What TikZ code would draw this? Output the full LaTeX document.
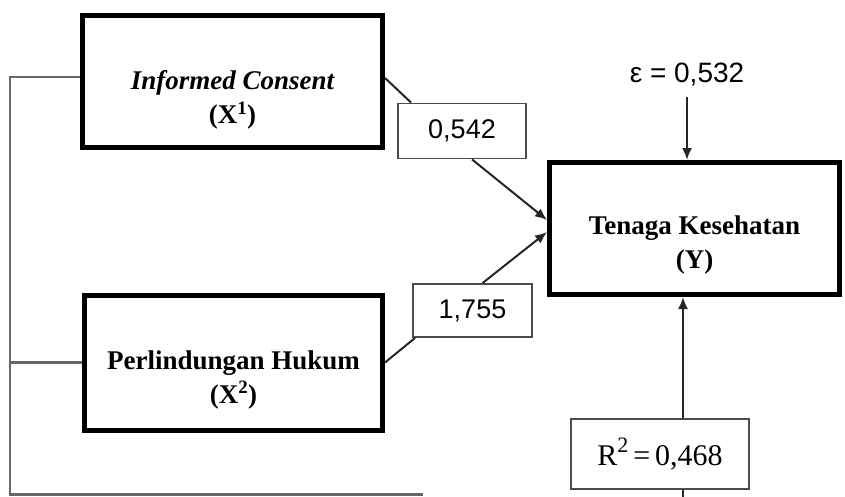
\documentclass[tikz,border=0pt]{standalone}
\usepackage{fontspec}
\setmainfont{Liberation Serif}
\newfontfamily\lblfont{Liberation Sans}
\usetikzlibrary{arrows.meta,calc}
\tikzset{
  bigbox/.style={draw=black,line width=5pt,fill=white,inner sep=0pt},
  bigtext/.style={align=center,inner sep=0pt,
    font=\fontsize{27}{34}\selectfont\bfseries},
  lblbox/.style={draw=black!70,line width=1.8pt,fill=white,inner sep=0pt,
    font=\fontsize{27}{30}\selectfont\lblfont},
  conn/.style={line width=2pt,black!85},
  brk/.style={line width=2.2pt,black!60},
  arr/.style={conn,-{Latex[length=12pt,width=10pt]}}
}
\begin{document}
\begin{tikzpicture}[x=1pt,y=-1pt]
\useasboundingbox (0,0) rectangle (845,496);
\node[bigbox,minimum width=300,minimum height=132] (X1) at (232.5,81.5) {};
\node[bigtext] (X1t) at ($(X1.center)+(0,18)$)
  {\itshape Informed Consent\\(X\textsuperscript{1})};
\node[bigbox,minimum width=298,minimum height=135] (X2) at (233.5,362.5) {};
\node[bigtext] (X2t) at ($(X2.center)+(0,17)$)
  {Perlindungan Hukum\\(X\textsuperscript{2})};
\node[bigbox,minimum width=290,minimum height=132] (Y) at (694.5,228.5) {};
\node[bigtext] (Yt) at ($(Y.center)+(0,17)$)
  {Tenaga Kesehatan\\(Y)};
\node[lblbox,minimum width=128,minimum height=55] (L1) at (462,131) {0,542};
\node[lblbox,minimum width=119,minimum height=53] (L2) at (472.5,310.5) {1,755};
\node[lblbox,minimum width=178,minimum height=70,
  font=\fontsize{30}{32}\selectfont] (R2) at (660,454)
  {R\raisebox{0.42em}{\fontsize{22}{24}\selectfont 2}\,=\,0,468};
\node[inner sep=0pt,font=\fontsize{28}{30}\selectfont\lblfont] (eps) at (687,75) {ε\;=\;0,532};
\coordinate (c1) at (10,494.5);
\coordinate (cend) at (423,494.5);
% bracket
\draw[brk] (X1.west |- 0,77) -| (c1) -- (cend);
\draw[brk] (X2.west) -- (X2.west -| c1);
% paths
\draw[conn] (X1.east |- 0,78) -- ($(L1.north west)+(14,0)$);
\draw[arr] ($(L1.south)+(10,0)$) -- ($(Y.west)+(0,-8.5)$);
\draw[conn] (X2.east) -- ($(L2.south west)+(3,0)$);
\draw[arr] ($(L2.north)+(10,0)$) -- ($(Y.west)+(0,3.5)$);
\draw[arr] ($(eps.south)+(0,10)$) -- (eps.south |- Y.north);
\coordinate (r2a) at ($(R2.north)+(23,0)$);
\draw[arr] (r2a) -- (r2a |- Y.south);
\draw[conn] ($(R2.south)+(23,0)$) -- ++(0,8);
\end{tikzpicture}
\end{document}
